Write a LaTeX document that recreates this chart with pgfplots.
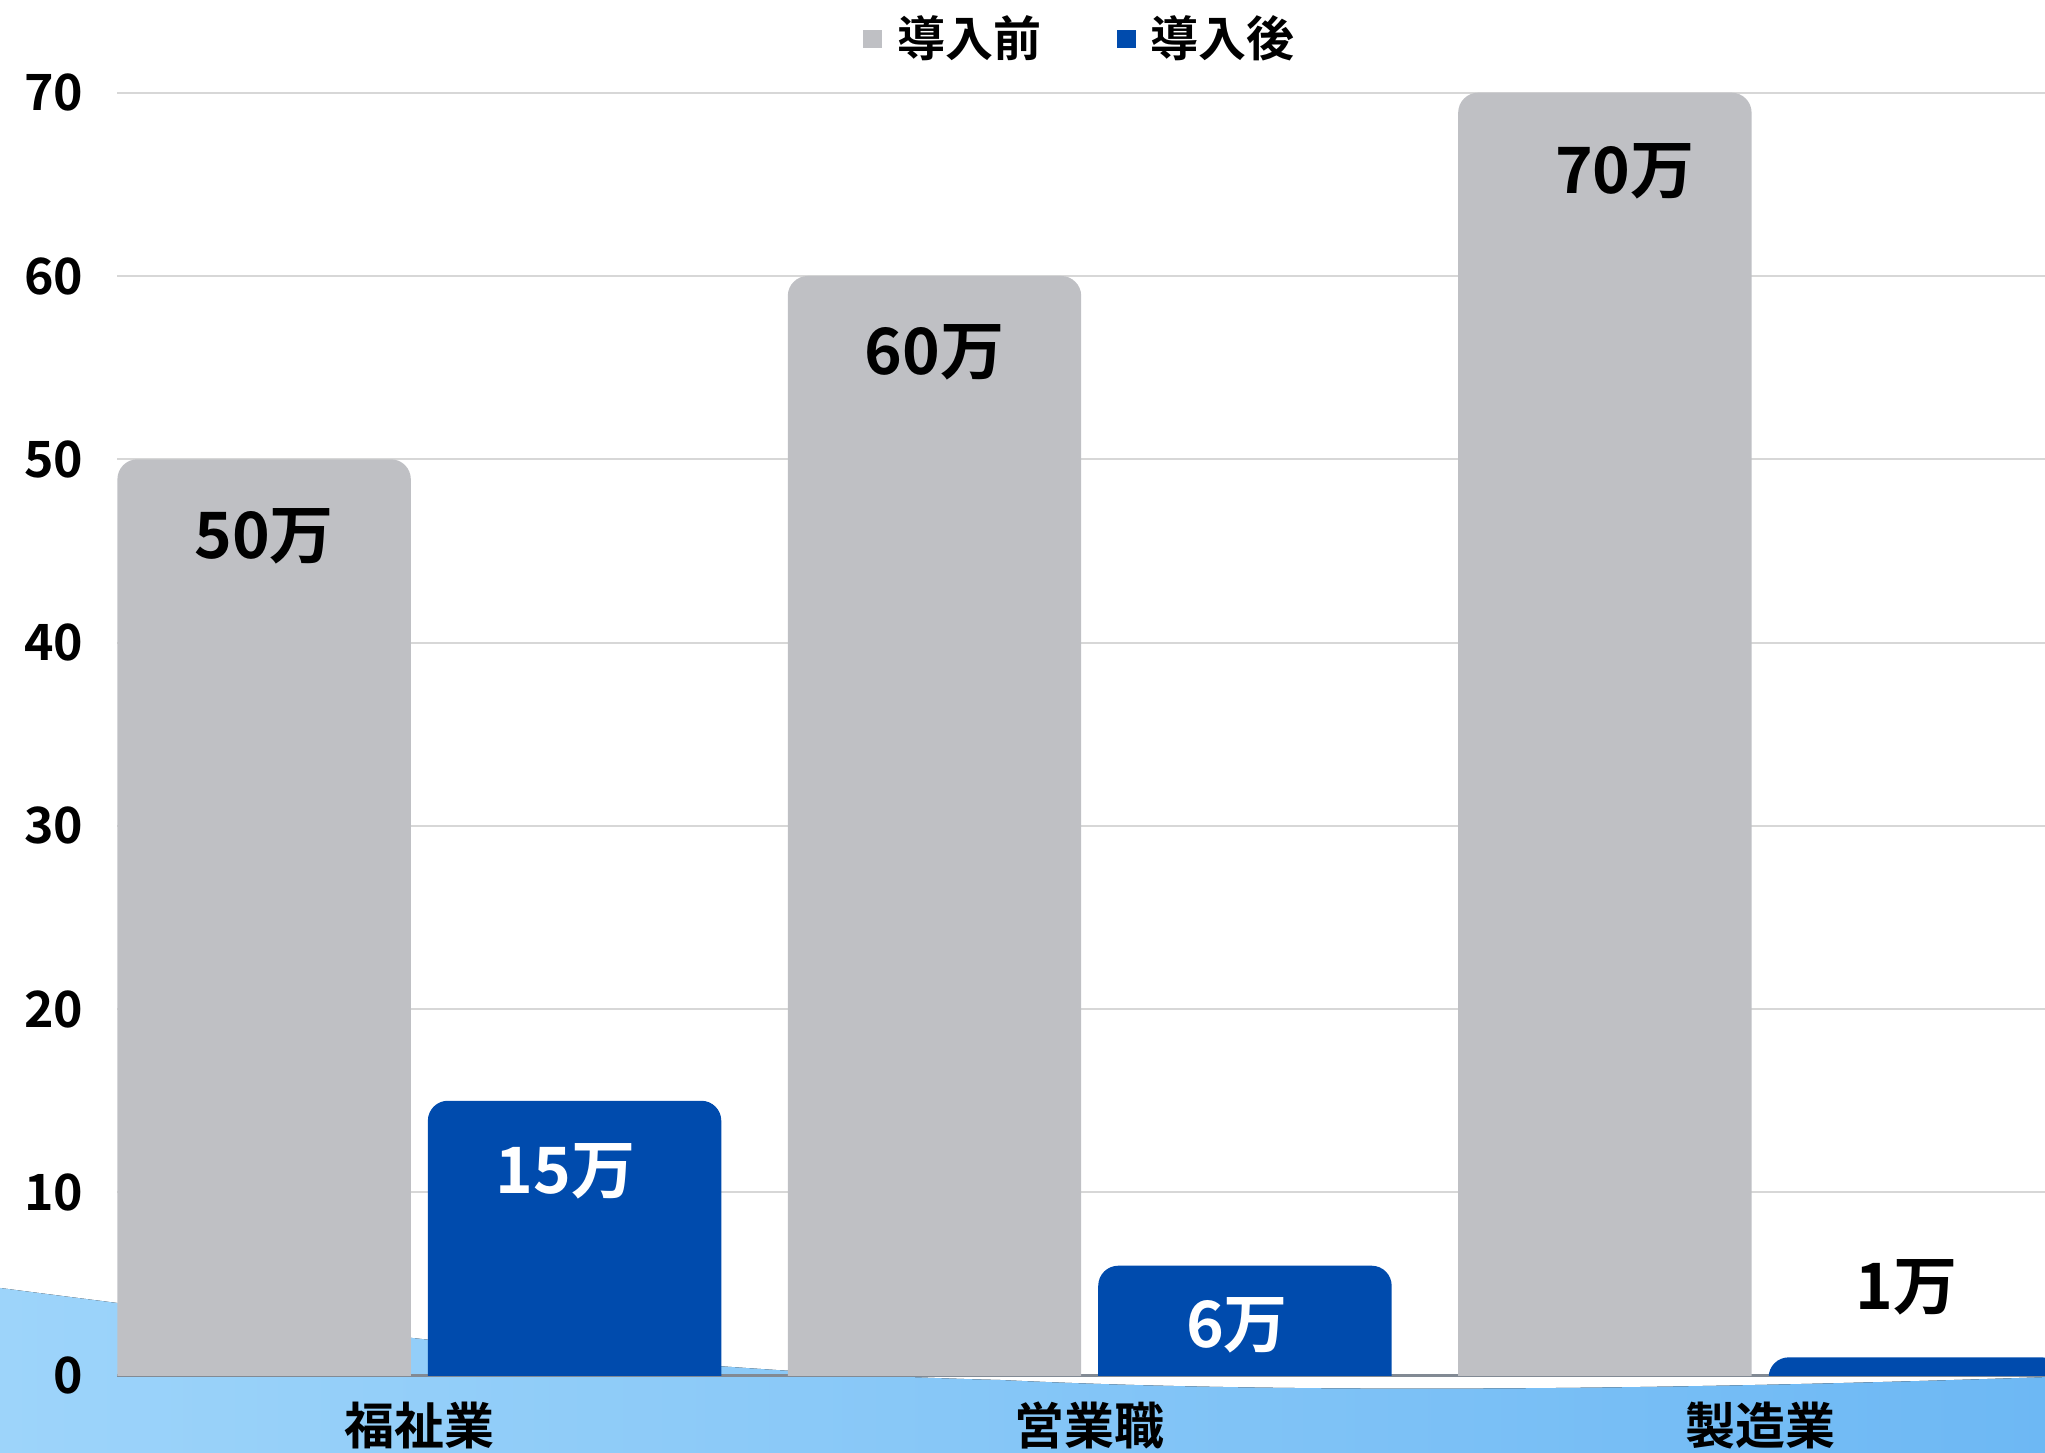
\documentclass[border=0pt]{standalone}
\usepackage{fontspec}
\setmainfont{Noto Sans CJK JP}[BoldFont={* Bold}]
\usepackage{pgfplots}
\pgfplotsset{compat=1.18}
\definecolor{barGray}{RGB}{191,192,196}
\definecolor{barBlue}{RGB}{0,75,173}
\definecolor{waveL}{RGB}{157,212,250}
\definecolor{waveR}{RGB}{109,184,244}
\definecolor{gridc}{RGB}{215,215,215}
\definecolor{axisc}{RGB}{130,138,148}
\begin{document}
\begin{tikzpicture}
\useasboundingbox (0pt,0pt) rectangle (511.25pt,363.25pt);
\clip (0pt,0pt) rectangle (511.25pt,363.25pt);
\begin{scope}[x=0.25pt,y=-0.25pt,shift={(0pt,363.25pt)}]
\fill[left color=waveL, right color=waveR] (0,1460) -- (0,1288) .. controls (333,1331) and (667,1372) .. (1000,1380) .. controls (1250,1392) and (1600,1392) .. (2050,1377) -- (2050,1460) -- cycle;
\end{scope}
\begin{axis}[
  at={(29.35pt,19.325pt)}, anchor=south west,
  scale only axis, width=481.9pt, height=320.75pt,
  xmin=-0.4504, xmax=2.425, ymin=0, ymax=70,
  xtick={0,1,2}, xticklabels={福祉業,営業職,製造業},
  ytick={0,10,...,70},
  ymajorgrids, grid style={gridc, line width=0.5pt},
  separate axis lines,
  axis x line*=bottom, axis y line*=left,
  x axis line style={axisc, line width=0.6pt},
  y axis line style={draw=none},
  major tick length=0pt,
  /pgf/number format/assume math mode=true,
  tick label style={font=\bfseries\fontsize{12.5}{14}\selectfont, text=black},
  yticklabel style={anchor=east, xshift=-5pt},
  xticklabel style={anchor=north, yshift=-3pt},
  legend style={at={(0.501,1)}, anchor=center, yshift=13.4pt, draw=none, fill=none,
    legend columns=-1, font=\bfseries\fontsize{12}{14}\selectfont,
    /tikz/every even column/.append style={column sep=17pt}},
]
\addlegendimage{legend image code/.code={\fill[barGray] (0pt,-2.125pt) rectangle (4.25pt,2.125pt); \path[draw=none] (4.25pt,0pt) -- (6.25pt,0pt);}}
\addlegendentry{導入前}
\addlegendimage{legend image code/.code={\fill[barBlue] (0pt,-2.125pt) rectangle (4.25pt,2.125pt); \path[draw=none] (4.25pt,0pt) -- (6.25pt,0pt);}}
\addlegendentry{導入後}
% 導入前 bars
\addplot[forget plot, fill=barGray, draw=none, rounded corners=5pt] coordinates {(-0.4504,-5) (-0.4504,50) (-0.0127,50) (-0.0127,-5)} -- cycle;
\addplot[forget plot, fill=barGray, draw=none, rounded corners=5pt] coordinates {(0.5496,-5) (0.5496,60) (0.9873,60) (0.9873,-5)} -- cycle;
\addplot[forget plot, fill=barGray, draw=none, rounded corners=5pt] coordinates {(1.5496,-5) (1.5496,70) (1.9873,70) (1.9873,-5)} -- cycle;
% 導入後 bars
\addplot[forget plot, fill=barBlue, draw=none, rounded corners=5pt] coordinates {(0.0127,-5) (0.0127,15) (0.4504,15) (0.4504,-5)} -- cycle;
\addplot[forget plot, fill=barBlue, draw=none, rounded corners=5pt] coordinates {(1.0127,-5) (1.0127,6) (1.4504,6) (1.4504,-5)} -- cycle;
\addplot[forget plot, fill=barBlue, draw=none, rounded corners=5pt] coordinates {(2.0127,-5) (2.0127,1) (2.4504,1) (2.4504,-5)} -- cycle;
% labels
\addplot[forget plot, draw=none, nodes near coords, point meta=explicit symbolic,
  nodes near coords style={font=\bfseries\fontsize{16}{18}\selectfont, text=black, anchor=center, yshift=-19.2pt}]
  coordinates {(-0.2315,50)[50万] (0.7685,60)[60万]};
\addplot[forget plot, draw=none, nodes near coords, point meta=explicit symbolic,
  nodes near coords style={font=\bfseries\fontsize{16}{18}\selectfont, text=black, anchor=center, yshift=-19.6pt, xshift=5pt}]
  coordinates {(1.7685,70)[70万]};
\addplot[forget plot, draw=none, nodes near coords, point meta=explicit symbolic,
  nodes near coords style={font=\bfseries\fontsize{16}{18}\selectfont, text=white, anchor=center, yshift=-17.6pt, xshift=-2.2pt}]
  coordinates {(0.2315,15)[15万]};
\addplot[forget plot, draw=none, nodes near coords, point meta=explicit symbolic,
  nodes near coords style={font=\bfseries\fontsize{16}{18}\selectfont, text=white, anchor=center, yshift=-15pt, xshift=-2pt}]
  coordinates {(1.2315,6)[6万]};
\addplot[forget plot, draw=none, nodes near coords, point meta=explicit symbolic,
  nodes near coords style={font=\bfseries\fontsize{16}{18}\selectfont, text=black, anchor=center, yshift=17.6pt, xshift=-2.2pt}]
  coordinates {(2.2315,1)[1万]};
\end{axis}
\end{tikzpicture}
\end{document}
